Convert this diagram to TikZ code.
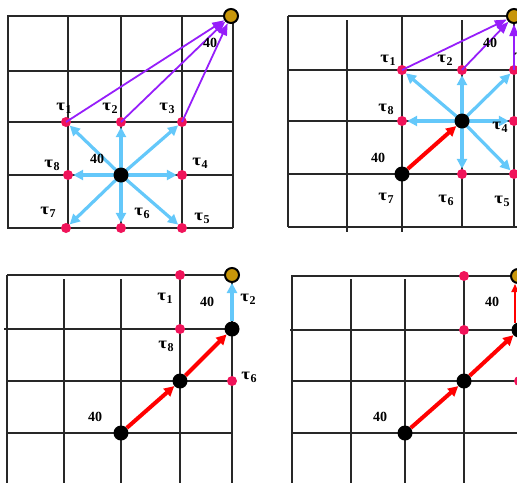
\documentclass[tikz,border=0pt]{standalone}
\usepackage{fontspec}
\setmainfont{Liberation Serif}
\usetikzlibrary{arrows.meta}
\definecolor{pinkdot}{RGB}{240,20,90}
\definecolor{golddot}{RGB}{200,150,10}
\definecolor{skyarrow}{RGB}{100,200,250}
\definecolor{purparrow}{RGB}{150,30,250}
\definecolor{gridc}{RGB}{40,40,40}
\newcommand{\taulab}[1]{\scalebox{1.35}[1.15]{τ}\kern0.3pt\raisebox{-3pt}{\fontsize{12}{12}\selectfont #1}}
\begin{document}
\begin{tikzpicture}[x=1pt,y=-1pt,
  gridline/.style={draw=gridc,line width=1.1pt},
  pdot/.style={circle,fill=pinkdot,inner sep=0pt,minimum size=10pt},
  bdot/.style={circle,fill=black,inner sep=0pt,minimum size=15pt},
  gdot/.style={circle,fill=golddot,draw=black,line width=2pt,inner sep=0pt,minimum size=14pt},
  lbl/.style={font=\fontsize{14}{14}\selectfont\bfseries,inner sep=0pt},
  bluearr/.style={draw=skyarrow,line width=3.2pt,-{Triangle[length=10pt,width=10pt]}},
  purparr/.style={draw=purparrow,line width=1.8pt,-{Triangle[length=12pt,width=9pt]}},
  redarr/.style={draw=red,line width=4pt,-{Triangle[length=10pt,width=10pt]}},
  thinred/.style={draw=red,line width=1.8pt,-{Triangle[length=8pt,width=7pt]}}]
\useasboundingbox (0,0) rectangle (517,483);
\clip (0,0) rectangle (517,483);

% ---------- Panel 1 ----------
\foreach \y in {16,71,122,175,228} \draw[gridline] (7,\y) -- (233,\y);
\foreach \x in {8,68,121,182,233} \draw[gridline] (\x,16) -- (\x,228);
\node[pdot] (a1) at (66,122) {};
\node[pdot] (a2) at (121,122) {};
\node[pdot] (a3) at (182,122) {};
\node[pdot] (a8) at (68,175) {};
\node[pdot] (a4) at (182,175) {};
\node[pdot] (a7) at (66,228) {};
\node[pdot] (a6) at (121,228) {};
\node[pdot] (a5) at (182,228) {};
\node[gdot] (ag) at (231,16) {};
\foreach \t in {a1,a2,a3,a8,a4,a7,a6,a5} \draw[bluearr] (121,175) -- (\t);
\node[bdot] (ac) at (121,175) {};
\foreach \t in {a1,a2,a3} \draw[purparr] (\t.center) -- (ag);
\node[lbl] (la1) at (64,108) {\taulab{1}};
\node[lbl] (la2) at (110,108) {\taulab{2}};
\node[lbl] (la3) at (167,108) {\taulab{3}};
\node[lbl] (la8) at (52,165) {\taulab{8}};
\node[lbl] (la4) at (200,163) {\taulab{4}};
\node[lbl] (la7) at (48,212) {\taulab{7}};
\node[lbl] (la6) at (142,213) {\taulab{6}};
\node[lbl] (la5) at (202,218) {\taulab{5}};
\node[lbl] (n1a) at (97,159) {40};
\node[lbl] (n1b) at (210,43) {40};

% ---------- Panel 2 ----------
\foreach \y in {16,70,121,174,227} \draw[gridline] (288,\y) -- (517,\y);
\draw[gridline] (288,16) -- (288,227);
\draw[gridline] (347,20) -- (347,232);
\draw[gridline] (402,16) -- (402,232);
\draw[gridline] (462,20) -- (462,227);
\draw[gridline] (514,16) -- (514,227);
\node[pdot] (b1) at (402,70) {};
\node[pdot] (b2) at (462,70) {};
\node[pdot] (b3) at (514,70) {};
\node[pdot] (b8) at (402,121) {};
\node[pdot] (b4) at (514,121) {};
\node[pdot] (b6) at (462,174) {};
\node[pdot] (b5) at (514,174) {};
\node[gdot] (bg) at (514,16) {};
\node[bdot] (bs) at (402,174) {};
\foreach \t in {b1,b2,b3,b8,b4,b6,b5} \draw[bluearr] (462,121) -- (\t);
\node[bdot] (bc) at (462,121) {};
\draw[redarr] (bs) -- (bc);
\foreach \t in {b1,b2,b3} \draw[purparr] (\t.center) -- (bg);
\node[lbl] (lb1) at (388,60) {\taulab{1}};
\node[lbl] (lb2) at (445,60) {\taulab{2}};
\node[lbl] (lb3) at (522,58) {\taulab{3}};
\node[lbl] (lb8) at (386,109) {\taulab{8}};
\node[lbl] (lb4) at (500,127) {\taulab{4}};
\node[lbl] (lb7) at (386,198) {\taulab{7}};
\node[lbl] (lb6) at (446,200) {\taulab{6}};
\node[lbl] (lb5) at (502,201) {\taulab{5}};
\node[lbl] (n2a) at (378,158) {40};
\node[lbl] (n2b) at (490,43) {40};

% ---------- Panel 3 ----------
\draw[gridline] (7,275) -- (232,275);
\draw[gridline] (4,329) -- (232,329);
\draw[gridline] (7,381) -- (232,381);
\draw[gridline] (7,433) -- (231,433);
\draw[gridline] (7,275) -- (7,483);
\draw[gridline] (64,279) -- (64,483);
\draw[gridline] (121,279) -- (121,483);
\draw[gridline] (180,275) -- (180,483);
\draw[gridline] (232,275) -- (232,483);
\node[pdot] (c1) at (180,275) {};
\node[pdot] (c8) at (180,329) {};
\node[pdot] (c6) at (232,381) {};
\node[gdot] (cg) at (232,275) {};
\node[bdot] (cs) at (121,433) {};
\node[bdot] (cm) at (180,381) {};
\node[bdot] (ce) at (232,329) {};
\draw[redarr] (cs) -- (cm);
\draw[redarr] (cm) -- (ce);
\draw[bluearr] (ce) -- (cg);
\node[lbl] (lc1) at (165,298) {\taulab{1}};
\node[lbl] (lc2) at (248,299) {\taulab{2}};
\node[lbl] (lc8) at (166,346) {\taulab{8}};
\node[lbl] (lc6) at (249,377) {\taulab{6}};
\node[lbl] (n3a) at (207,302) {40};
\node[lbl] (n3b) at (95,417) {40};

% ---------- Panel 4 ----------
\draw[gridline] (292,276) -- (517,276);
\draw[gridline] (290,330) -- (517,330);
\draw[gridline] (292,381) -- (517,381);
\draw[gridline] (292,433) -- (517,433);
\draw[gridline] (292,275) -- (292,483);
\draw[gridline] (351,279) -- (351,483);
\draw[gridline] (405,279) -- (405,483);
\draw[gridline] (464,275) -- (464,483);
\node[pdot] (d1) at (464,276) {};
\node[pdot] (d8) at (464,330) {};
\node[pdot] (d6) at (519,381) {};
\node[gdot] (dg) at (518,276) {};
\node[bdot] (ds) at (405,433) {};
\node[bdot] (dm) at (464,381) {};
\node[bdot] (de) at (519,330) {};
\draw[redarr] (ds) -- (dm);
\draw[redarr] (dm) -- (de);
\draw[thinred] (515,323) -- (515,284);
\node[lbl] (n4a) at (492,302) {40};
\node[lbl] (n4b) at (380,417) {40};
\end{tikzpicture}
\end{document}
